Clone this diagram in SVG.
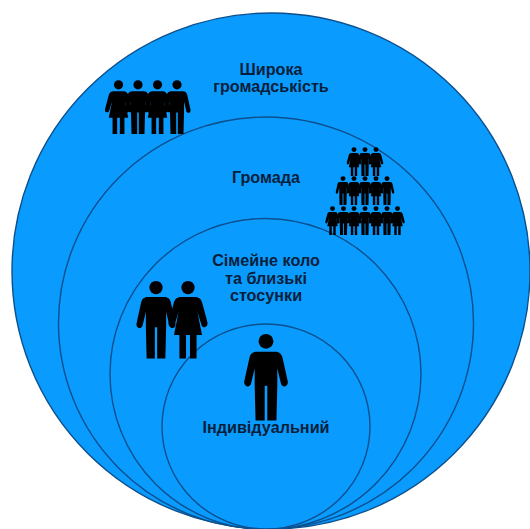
<svg xmlns="http://www.w3.org/2000/svg" width="530" height="529" viewBox="0 0 530 529">
<style>
.c{fill:#0a9bff;stroke:#0c4f8c;stroke-width:1.4}
text{font-family:"Liberation Sans",Arial,sans-serif;font-weight:bold;font-size:16.2px;fill:#071f3a;text-anchor:middle}
</style>
<defs>
<g id="man"><circle cx="0" cy="-91" r="8.500"/><path d="M-10-79H10C16-79 18-76 19-72L25-45C26-38 18-37 17-43L13-60V-40L12 0H1.500V-40H-1.500V0H-12L-13-40V-60L-17-43C-18-37-26-38-25-45L-19-72C-18-76-16-79-10-79Z"/></g>
<g id="woman"><circle cx="0" cy="-91" r="8.500"/><path d="M-9-79H9C14-79 17-76 18-72L25-46C26-39 18-38 17-44L12-60L18-30H11V0H2.500V-30H-2.500V0H-11V-30H-18L-12-60L-17-44C-18-38-26-39-25-46L-18-72C-17-76-14-79-9-79Z"/></g>
</defs>
<rect width="530" height="529" fill="#fff"/>
<g id="circles">
<ellipse id="society" class="c" cx="271" cy="271" rx="259" ry="258"/>
<ellipse id="community" class="c" cx="266" cy="323" rx="207.500" ry="206"/>
<circle id="family" class="c" cx="265.500" cy="374" r="155.500"/>
<ellipse id="individual" class="c" cx="266" cy="426.500" rx="104" ry="102.500"/>
</g>
<g id="group4">
<use href="#woman" transform="translate(118.500,134) scale(.54)"/><use href="#man" transform="translate(138,134) scale(.54)"/><use href="#woman" transform="translate(157.500,134) scale(.54)"/><use href="#man" transform="translate(177,134) scale(.54)"/>
</g>
<g id="pyramid">
<use href="#woman" transform="translate(354,176) scale(.29)"/><use href="#man" transform="translate(365,176) scale(.29)"/><use href="#woman" transform="translate(376,176) scale(.29)"/>
<use href="#man" transform="translate(343,205) scale(.29)"/><use href="#woman" transform="translate(354,205) scale(.29)"/><use href="#man" transform="translate(365,205) scale(.29)"/><use href="#woman" transform="translate(376,205) scale(.29)"/><use href="#man" transform="translate(387,205) scale(.29)"/>
<use href="#woman" transform="translate(332.500,235) scale(.29)"/><use href="#man" transform="translate(343.500,235) scale(.29)"/><use href="#woman" transform="translate(354,235) scale(.29)"/><use href="#man" transform="translate(365,235) scale(.29)"/><use href="#woman" transform="translate(376,235) scale(.29)"/><use href="#man" transform="translate(387,235) scale(.29)"/><use href="#woman" transform="translate(397.500,235) scale(.29)"/>
</g>
<g id="couple">
<use href="#man" transform="translate(156,358.500) scale(.78)"/><use href="#woman" transform="translate(188,358.500) scale(.78)"/>
</g>
<use id="person" href="#man" transform="translate(266,420.500) scale(.87)"/>
<g id="labels">
<text x="271" y="75">Широка</text><text x="271" y="92">громадськість</text>
<text x="266" y="183">Громада</text>
<text x="266" y="266">Сімейне коло</text><text x="266" y="284">та близькі</text><text x="266" y="301">стосунки</text>
<text x="266" y="433">Індивідуальний</text>
</g>
</svg>
